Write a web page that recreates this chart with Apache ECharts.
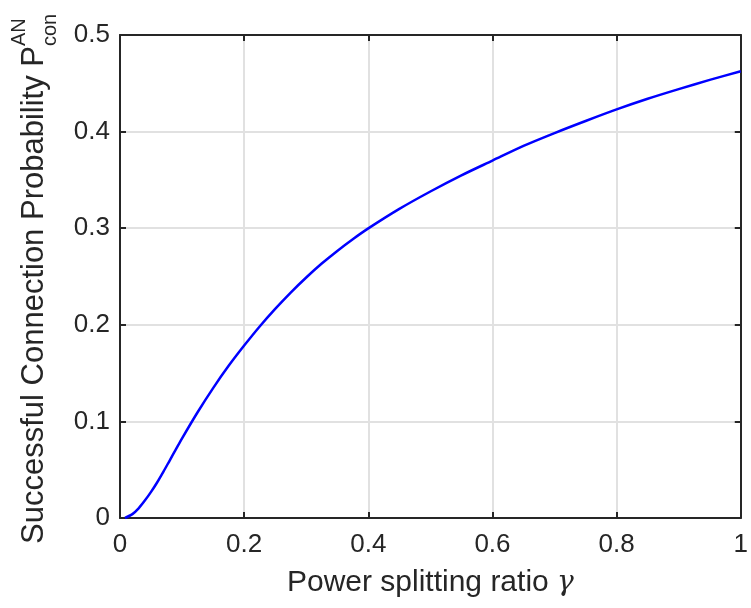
<!DOCTYPE html>
<html>
<head>
<meta charset="utf-8">
<script src="https://cdn.jsdelivr.net/npm/echarts@6/dist/echarts.min.js"></script>
<style>
html,body{margin:0;padding:0;background:#fff;}
#chart{width:751px;height:608px;}
</style>
</head>
<body>
<div id="chart"></div>
<script>
// Data
var gamma = [0.008, 0.02, 0.03, 0.04, 0.05, 0.06, 0.07, 0.08, 0.09, 0.10, 0.125, 0.15, 0.175, 0.20, 0.225, 0.25, 0.275, 0.30, 0.325, 0.35, 0.375, 0.40, 0.45, 0.50, 0.55, 0.60, 0.65, 0.70, 0.75, 0.80, 0.85, 0.90, 0.95, 1.00];
var pcon  = [0.000, 0.004, 0.010, 0.018, 0.027, 0.037, 0.048, 0.0595, 0.071, 0.0825, 0.1095, 0.1345, 0.1575, 0.1785, 0.1983, 0.2165, 0.2334, 0.249, 0.2634, 0.2765, 0.2886, 0.2998, 0.320, 0.338, 0.3547, 0.370, 0.3852, 0.3985, 0.411, 0.423, 0.434, 0.444, 0.4535, 0.4625];
var xTicks = [0, 0.2, 0.4, 0.6, 0.8, 1];
var yTicks = [0, 0.1, 0.2, 0.3, 0.4, 0.5];
var xTitle = 'Power splitting ratio ';
var xTitleSymbol = 'γ';
var yTitle = 'Successful Connection Probability P';
var yTitleSup = 'AN';
var yTitleSub = 'con';

var FONT = '"Liberation Sans", Arial, Helvetica, sans-serif';
var AXC = '#262626';

var points = gamma.map(function (g, i) { return [g, pcon[i]]; });

var chart = echarts.init(document.getElementById('chart'), null, {renderer: 'canvas'});

function baseAxis(extra) {
  return Object.assign({
    type: 'value',
    axisLine: {show: true, onZero: false, lineStyle: {color: AXC, width: 2}},
    axisTick: {show: true, inside: true, length: 6, lineStyle: {color: AXC, width: 2}},
    splitLine: {show: false},
    axisLabel: {show: false}
  }, extra);
}

chart.setOption({
  animation: false,
  backgroundColor: '#ffffff',
  grid: {left: 120, right: 4, top: 35, bottom: 90, containLabel: false},
  xAxis: [
    baseAxis({
      position: 'bottom',
      min: xTicks[0], max: xTicks[xTicks.length - 1], interval: 0.2,
      splitLine: {show: true, lineStyle: {color: '#e1e1e1', width: 2}},
      axisLabel: {show: true, color: '#262626', fontFamily: FONT, fontSize: 26, margin: 14,
        formatter: function (v) { return String(+v.toFixed(1)); }},
      name: xTitle + '{g|' + xTitleSymbol + '}',
      nameLocation: 'middle',
      nameGap: 50,
      nameTextStyle: {color: '#262626', fontFamily: FONT, fontSize: 30,
        rich: {g: {fontFamily: '"DejaVu Serif", serif', fontStyle: 'italic', fontSize: 28, color: '#262626'}}}
    }),
    baseAxis({position: 'top', min: 0, max: 1, interval: 0.2})
  ],
  yAxis: [
    baseAxis({
      position: 'left',
      min: yTicks[0], max: yTicks[yTicks.length - 1], interval: 0.1,
      splitLine: {show: true, lineStyle: {color: '#e1e1e1', width: 2}},
      axisLabel: {show: true, color: '#262626', fontFamily: FONT, fontSize: 26, margin: 10,
        formatter: function (v) { return String(+v.toFixed(1)); }}
    }),
    baseAxis({position: 'right', min: 0, max: 0.5, interval: 0.1})
  ],
  series: [{
    type: 'line',
    data: points,
    xAxisIndex: 0,
    yAxisIndex: 0,
    showSymbol: false,
    smooth: 0.3,
    lineStyle: {color: '#0000ff', width: 2.5},
    z: 5
  }],
  graphic: [
    {type: 'text', x: 34, y: 46, rotation: Math.PI / 2,
      style: {text: yTitle, x: 0, y: 0, align: 'right', verticalAlign: 'middle',
        font: '31px ' + FONT, fill: '#262626'}},
    {type: 'text', x: 19, y: 46, rotation: Math.PI / 2,
      style: {text: yTitleSup, x: 0, y: 0, align: 'left', verticalAlign: 'middle',
        font: '20px ' + FONT, fill: '#262626'}},
    {type: 'text', x: 50, y: 46, rotation: Math.PI / 2,
      style: {text: yTitleSub, x: 0, y: 0, align: 'left', verticalAlign: 'middle',
        font: '20px ' + FONT, fill: '#262626'}}
  ]
});
</script>
</body>
</html>
